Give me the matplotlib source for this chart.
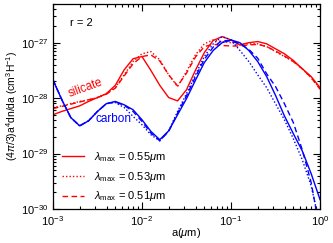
import numpy as np
import matplotlib
matplotlib.use("Agg")
import matplotlib.pyplot as plt
from matplotlib.ticker import FixedLocator, NullFormatter

plt.rcParams['font.family'] = ['Liberation Sans', 'DejaVu Sans']
plt.rcParams['mathtext.fontset'] = 'custom'
plt.rcParams['mathtext.rm'] = 'Liberation Sans'
plt.rcParams['mathtext.it'] = 'Liberation Sans:italic'
plt.rcParams['mathtext.bf'] = 'Liberation Sans:bold'

# log10 of grain radius a (micron)
log_a = [-3.0, -2.9, -2.8, -2.7, -2.6, -2.5, -2.4, -2.3, -2.2, -2.1,
         -2.0, -1.9, -1.8, -1.7, -1.6, -1.5, -1.4, -1.3, -1.2, -1.1,
         -1.0, -0.9, -0.8, -0.7, -0.6, -0.5, -0.4, -0.3, -0.2, -0.1, 0.0]

# log10 of (4pi/3) a^4 dn/da
sil_055 = [-28.30, -28.24, -28.19, -28.14, -28.06, -27.99, -27.92, -27.77, -27.49, -27.29,
           -27.25, -27.50, -27.77, -27.99, -28.05, -27.85, -27.50, -27.18, -26.96, -26.89,
           -26.95, -27.04, -27.00, -26.98, -27.02, -27.11, -27.20, -27.32, -27.47, -27.61, -27.81]
sil_053 = [-28.17, -28.14, -28.10, -28.06, -28.03, -27.99, -27.92, -27.81, -27.58, -27.34,
           -27.20, -27.16, -27.31, -27.58, -27.79, -27.52, -27.22, -27.02, -26.95, -26.98,
           -27.00, -27.04, -27.02, -27.02, -27.07, -27.16, -27.25, -27.34, -27.47, -27.63, -27.83]
sil_051 = [-28.19, -28.15, -28.11, -28.07, -28.03, -27.99, -27.93, -27.82, -27.60, -27.38,
           -27.25, -27.22, -27.33, -27.58, -27.78, -27.55, -27.26, -27.07, -27.03, -27.05,
           -27.06, -27.06, -27.04, -27.03, -27.07, -27.15, -27.24, -27.34, -27.47, -27.63, -27.84]

car_055 = [-27.67, -28.03, -28.35, -28.50, -28.41, -28.24, -28.10, -28.06, -28.12, -28.21,
           -28.39, -28.60, -28.75, -28.59, -28.30, -28.01, -27.68, -27.36, -27.14, -27.00,
           -26.95, -27.00, -27.14, -27.34, -27.61, -27.95, -28.32, -28.64, -28.95, -29.36, -29.83]
car_053 = [-27.67, -28.03, -28.35, -28.50, -28.41, -28.24, -28.10, -28.08, -28.17, -28.33,
           -28.48, -28.66, -28.77, -28.59, -28.24, -27.92, -27.58, -27.25, -27.02, -26.89,
           -26.95, -27.14, -27.34, -27.58, -27.81, -28.10, -28.39, -28.73, -29.11, -29.58, -30.30]
car_051 = [-27.67, -28.03, -28.35, -28.50, -28.41, -28.24, -28.10, -28.07, -28.13, -28.24,
           -28.42, -28.63, -28.77, -28.60, -28.27, -27.96, -27.62, -27.30, -27.08, -26.96,
           -26.97, -27.02, -27.12, -27.28, -27.56, -27.79, -28.10, -28.44, -28.93, -29.52, -30.40]

labels = [r'$\lambda_{\rm max}$ = 0.55$\mu$m',
          r'$\lambda_{\rm max}$ = 0.53$\mu$m',
          r'$\lambda_{\rm max}$ = 0.51$\mu$m']

x_major = [1e-3, 1e-2, 1e-1, 1e0]
y_major = [1e-30, 1e-29, 1e-28, 1e-27]

a = 10.0 ** np.array(log_a)
def v(arr):
    return 10.0 ** np.array(arr)

fig = plt.figure(figsize=(3.33, 2.43), dpi=100)
ax = fig.add_axes([0.159, 0.140, 0.802, 0.844])

red = '#ff0000'
blue = '#0000ff'
lw = 1.0
styles = ['-', (0, (1, 1.5)), (0, (4, 2.5))]

h = []
for ys, st, lab in zip([sil_055, sil_053, sil_051], styles, labels):
    ln, = ax.plot(a, v(ys), color=red, lw=lw, linestyle=st, label=lab)
    h.append(ln)
for ys, st in zip([car_055, car_053, car_051], styles):
    ax.plot(a, v(ys), color=blue, lw=lw, linestyle=st)

ax.set_xscale('log')
ax.set_yscale('log')
ax.set_xlim(1e-3, 1.0)
ax.set_ylim(1e-30, 10 ** -26.3)

xminor = [m * d for d in x_major[:-1] for m in range(2, 10)]
yminor = [m * d for d in y_major for m in range(2, 10) if m * d < 10 ** -26.3]
ax.xaxis.set_major_locator(FixedLocator(x_major))
ax.xaxis.set_minor_locator(FixedLocator(xminor))
ax.yaxis.set_major_locator(FixedLocator(y_major))
ax.yaxis.set_minor_locator(FixedLocator(yminor))
ax.xaxis.set_minor_formatter(NullFormatter())
ax.yaxis.set_minor_formatter(NullFormatter())

ax.tick_params(which='both', direction='in', top=True, right=True, labelsize=8, width=0.8)
ax.tick_params(which='major', length=5)
ax.tick_params(which='minor', length=2.5)
ax.tick_params(axis='x', pad=3.5)
ax.tick_params(axis='y', pad=3)
for s in ax.spines.values():
    s.set_linewidth(0.9)

ax.set_xlabel(r'a($\mu$m)', fontsize=8, labelpad=-1)
ax.set_ylabel(r'(4$\pi$/3)a$^4$dn/da (cm$^3$H$^{-1}$)', fontsize=7.5, labelpad=1)

ax.text(0.064, 0.905, 'r = 2', transform=ax.transAxes, fontsize=8, va='center', ha='left')
ax.text(0.12, 0.59, 'silicate', transform=ax.transAxes, fontsize=8.5, color=red, rotation=20,
        ha='center', va='center')
ax.text(0.225, 0.44, 'carbon', transform=ax.transAxes, fontsize=8.5, color=blue,
        ha='center', va='center')

leg = ax.legend(handles=h, loc='lower left', bbox_to_anchor=(0.012, 0.0), frameon=False,
                fontsize=8, handlelength=2.0, handletextpad=0.9, labelspacing=0.5,
                borderaxespad=0.1)

fig.savefig('out.png', dpi=100)
